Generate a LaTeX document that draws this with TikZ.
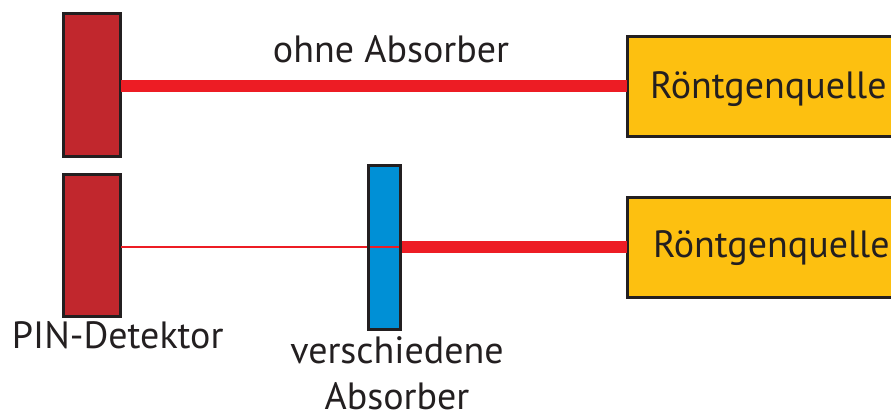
\documentclass[tikz,border=0pt]{standalone}
\usepackage{fontspec}
\setmainfont{PT Sans}
\begin{document}
\begin{tikzpicture}[x=1pt,y=-1pt,
  every node/.style={inner sep=0pt,outer sep=0pt},
  lbl/.style={text=ink,font=\fontsize{38}{46}\selectfont},
  detector/.style={draw=ink,line width=3pt,fill=detred},
  absorber/.style={draw=ink,line width=3pt,fill=absblue},
  source/.style={draw=ink,line width=3pt,fill=srcyellow},
  beam/.style={draw=beamred,line width=12pt},
  weakbeam/.style={draw=beamred,line width=2.5pt}]
\definecolor{ink}{HTML}{231F20}
\definecolor{detred}{HTML}{C1272D}
\definecolor{beamred}{HTML}{ED1C24}
\definecolor{absblue}{HTML}{0090D6}
\definecolor{srcyellow}{HTML}{FDC010}
\useasboundingbox (0,0) rectangle (891,413);
\clip (0,0) rectangle (891,413);

% upper row: direct beam
\node[detector,minimum width=57pt,minimum height=143pt] (det1) at (92,84.5) {};
\node[source,minimum width=280pt,minimum height=100pt,anchor=west] (src1) at (627,86) {};
\node[lbl,anchor=base west] (srclbl1) at (650,98) {Röntgenquelle};
\draw[beam] (src1.west) -- (det1.east |- src1.west);
\node[lbl,anchor=base] (ohne) at (391,62) {ohne Absorber};

% lower row: beam through absorber
\node[detector,minimum width=57pt,minimum height=142pt] (det2) at (92,245) {};
\node[source,minimum width=280pt,minimum height=100pt,anchor=west] (src2) at (627,247) {};
\node[lbl,anchor=base west] (srclbl2) at (653,257) {Röntgenquelle};
\node[absorber,minimum width=32pt,minimum height=164pt] (abs) at (384.5,247.5) {};
\coordinate (beamhit) at (abs.east |- src2.west);
\draw[weakbeam] (beamhit) -- (det2.east |- beamhit);
\draw[beam] (src2.west) -- (beamhit);
\draw[absorber,fill=none] (abs.north west) rectangle (abs.south east);

\node[lbl,anchor=base west] (pin) at (12,348) {PIN-Detektor};
\node[lbl,anchor=base] (verschieden) at (397,363) {verschiedene};
\node[lbl,anchor=base] (absname) at (397,409) {Absorber};
\end{tikzpicture}
\end{document}
